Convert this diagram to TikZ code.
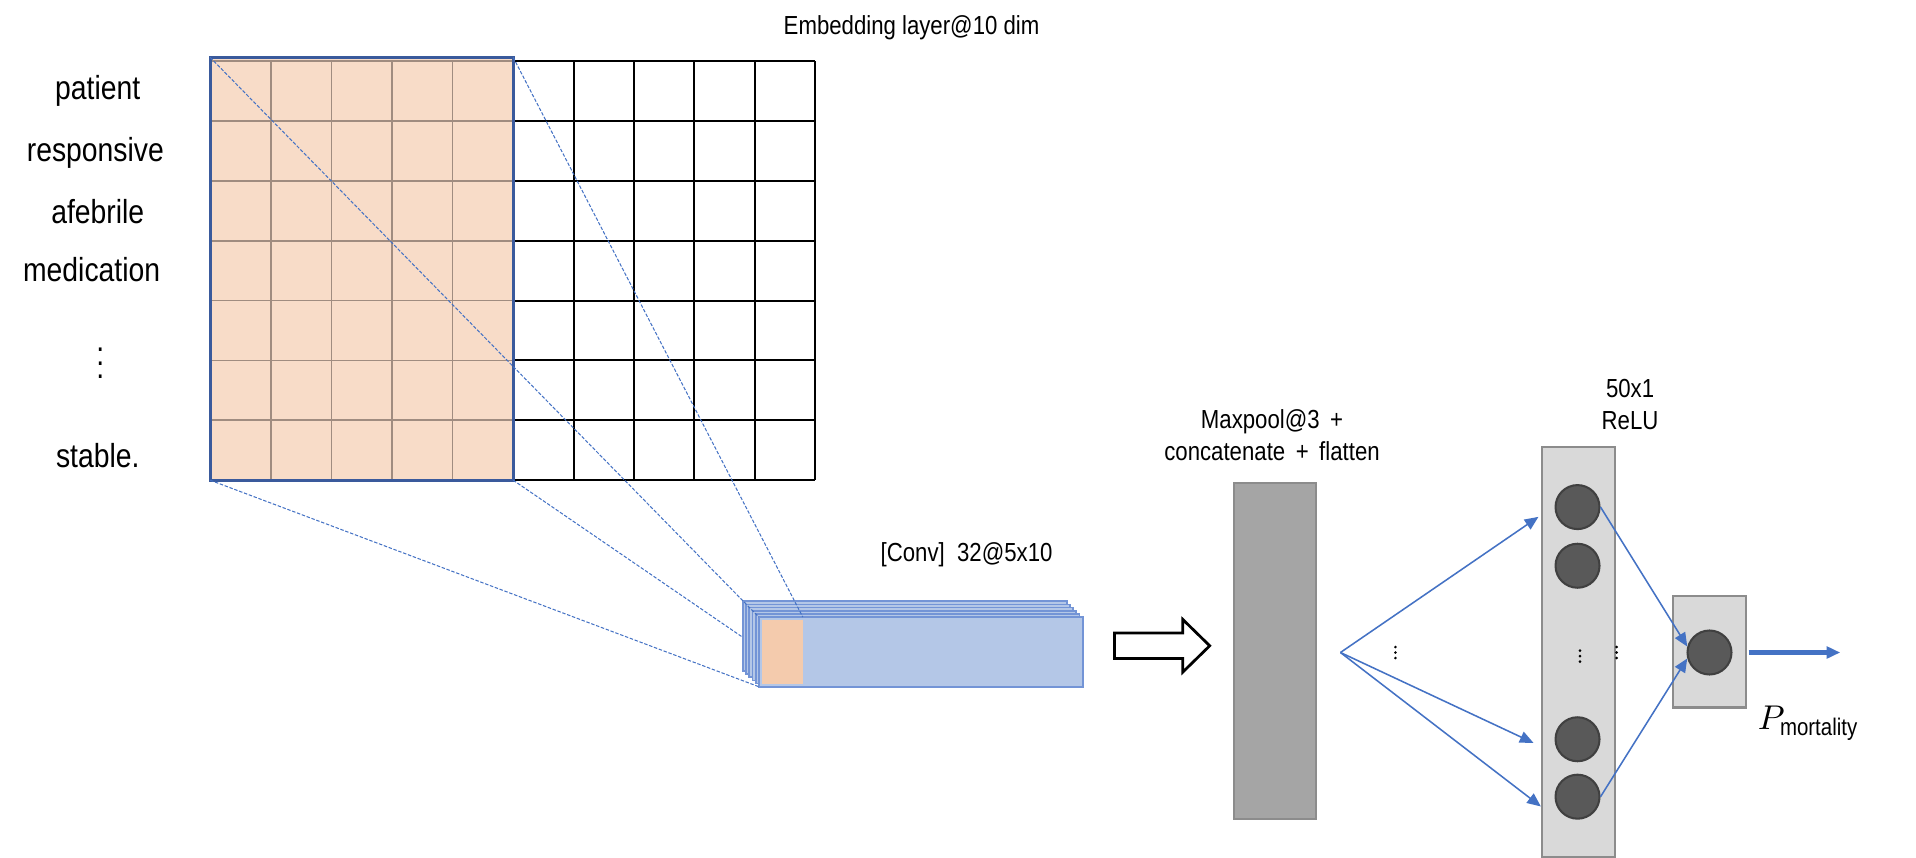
\documentclass[tikz,border=0pt]{standalone}
\usepackage{fontspec}
\setmainfont{Liberation Sans}[FakeStretch=0.85]
\usepackage{amsmath}
\usetikzlibrary{arrows.meta}

\definecolor{peach}{HTML}{F8DCC8}
\definecolor{peachdark}{HTML}{F4CBAD}
\definecolor{cellline}{HTML}{A08C80}
\definecolor{winblue}{HTML}{3A5A9C}
\definecolor{linkblue}{HTML}{4472C4}
\definecolor{convfill}{HTML}{B4C7E7}
\definecolor{convline}{HTML}{7394D6}
\definecolor{poolfill}{HTML}{A5A5A5}
\definecolor{densefill}{HTML}{D9D9D9}
\definecolor{boxline}{HTML}{8C8C8C}
\definecolor{neuron}{HTML}{595959}

\tikzset{
  word/.style={font=\fontsize{9.7}{11}\selectfont},
  caption/.style={font=\fontsize{7.6}{9.4}\selectfont, align=center},
  unit/.style={circle, draw=black!75, line width=0.6pt, fill=neuron, minimum size=4.5mm, inner sep=0pt},
  window/.style={color=linkblue, line width=0.3pt, dash pattern=on 1pt off 0.5pt},
  link/.style={->, color=linkblue, line width=0.45pt},
  layer/.style={draw=convline, fill=convfill, line width=0.5pt},
  panel/.style={draw=boxline, line width=0.6pt}
}

\begin{document}
\begin{tikzpicture}[x=0.125mm, y=-0.125mm, >={Triangle[length=1.4mm,width=1.2mm]}]
\useasboundingbox (0,0) rectangle (1568,702);

% define the words of the note
  \node[word] (w1) at (80,74)  {patient};
  \node[word] (w2) at (78,125) {responsive};
  \node[word] (w3) at (80,173) {afebrile};
  \node[word] (w4) at (75,221) {medication};
  \node[word] (w5) at (82,289) {$\vdots$};
  \node[word] (w6) at (80,373) {stable.};

% define the embedding matrix
  \fill[peach] (172,47) rectangle (420,393);
  \foreach \x in {221.6,271.2,320.8,370.4}
    \draw[cellline, line width=0.5pt] (\x,50) -- (\x,393);
  \foreach \y in {50,99,148,197,246,295,344}
    \draw[cellline, line width=0.5pt] (172,\y) -- (420,\y);
  \foreach \x in {469.4,518.8,568.2,617.6,667}
    \draw[line width=0.6pt] (\x,50) -- (\x,393);
  \foreach \y in {50,99,148,197,246,295,344,393}
    \draw[line width=0.6pt] (420,\y) -- (667,\y);
  \draw[winblue, line width=0.9pt] (172,47) rectangle (420,393);
  \node[caption] (emb) at (746,23) {Embedding layer@10 dim};

  \coordinate (wnw) at (172,47);
  \coordinate (wne) at (420,47);
  \coordinate (wsw) at (172,393);
  \coordinate (wse) at (420,393);

% define the convolution maps
  \foreach \k in {0,...,5}
    \draw[layer] ({608+2.6*\k},{492+2.6*\k}) rectangle ++(265,57);
  \fill[peachdark] (623.5,507) rectangle (657,560);
  \node[caption] (convlbl) at (791,454) {[Conv]\ \ 32@5x10};

  \coordinate (cnw) at (621,505);
  \coordinate (cne) at (657,505);
  \coordinate (csw) at (621,562);
  \coordinate (cback) at (607,521);

% define the links of the window
  \path[window] (wnw) edge (cnw)
                (wne) edge (cne)
                (wsw) edge (csw)
                (wse) edge (cback);

% hollow arrow
  \draw[line width=0.8pt, fill=white] (912,518) -- (968,518) -- (968,507) -- (990,528.5)
       -- (968,550) -- (968,539) -- (912,539) -- cycle;

% define the pooling bar
  \draw[panel, fill=poolfill] (1010,395) rectangle (1077,670);
  \node[caption] (poollbl) at (1041,356) {Maxpool@3 \,+\\concatenate \,+\, flatten};

% define the dense layer
  \draw[panel, fill=densefill] (1262,366) rectangle (1322,701);
  \node[caption] (denselbl) at (1334,331) {50x1\\ReLU};
  \node[unit] (h1) at (1291,415) {};
  \node[unit] (h2) at (1291,463) {};
  \node[unit] (h3) at (1291,605) {};
  \node[unit] (h4) at (1291,652) {};
  \foreach \p in {(1142,534),(1293,537),(1323,534)}
    \foreach \d in {-4.5,0,4.5}
      \fill \p ++(0,\d) circle (1.2);

% define the output
  \draw[panel, fill=densefill] (1369,488) rectangle (1429,579);
  \node[unit] (out) at (1399,534) {};
  \node[font=\fontsize{10}{12}\selectfont] (plbl) at (1480,592) {$P_{\text{mortality}}$};

  \coordinate (fan) at (1097,534);
  \coordinate (d1) at (1259,423);
  \coordinate (d3) at (1255,608);
  \coordinate (d4) at (1261,660);
  \coordinate (ostart) at (1431,534);
  \coordinate (oend) at (1506,534);

% define the links
  \path[link] (fan) edge (d1)
                    edge (d3)
                    edge (d4)
              (h1.east) edge (out.165)
              (h4.east) edge (out.195);
  \draw[link, line width=1.5pt] (ostart) -- (oend);

\end{tikzpicture}
\end{document}
